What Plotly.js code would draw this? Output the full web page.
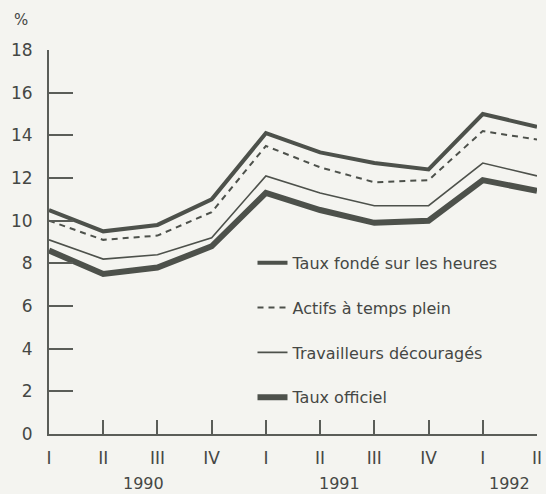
<!DOCTYPE html>
<html>
<head>
<meta charset="utf-8">
<script src="https://cdn.plot.ly/plotly-3.0.1.min.js"></script>
<style>html,body{margin:0;padding:0;background:#f4f4f0;}#chart{width:546px;height:494px;}</style>
</head>
<body>
<div id="chart"></div>
<script>
var quarterLabels = ["I","II","III","IV","I","II","III","IV","I","II"];
var years = ["1990","1991","1992"];
var yearPositions = [1.75, 5.35, 8.5];
var heures = [10.5, 9.5, 9.8, 11.0, 14.1, 13.2, 12.7, 12.4, 15.0, 14.4];
var actifs = [10.0, 9.1, 9.3, 10.4, 13.5, 12.5, 11.8, 11.9, 14.2, 13.8];
var travailleurs = [9.1, 8.2, 8.4, 9.2, 12.1, 11.3, 10.7, 10.7, 12.7, 12.1];
var officiel = [8.6, 7.5, 7.8, 8.8, 11.3, 10.5, 9.9, 10.0, 11.9, 11.4];
var seriesNames = ["Taux fondé sur les heures","Actifs à temps plein","Travailleurs découragés","Taux officiel"];

var xs = quarterLabels.map(function(_, i){ return i; });
var col = '#4d514b';
function tr(y, name, w, dash, g){
  return {x: xs, y: y, name: name, type: 'scatter', mode: 'lines', legendgroup: g,
    line: {color: col, width: w, dash: dash}, cliponaxis: false};
}
var data = [
  tr(heures, seriesNames[0], 4, 'solid', 'a'),
  tr(actifs, seriesNames[1], 2, '6px,5px', 'b'),
  tr(travailleurs, seriesNames[2], 1.6, 'solid', 'c'),
  tr(officiel, seriesNames[3], 6, 'solid', 'd')
];
var fam = 'DejaVu Sans, sans-serif';
var tcol = '#454744';
var tickFont = {family: fam, size: 17, color: tcol};
var yearFont = {family: fam, size: 16, color: tcol};
var legFont = {family: fam, size: 16, color: tcol};
var layout = {
  width: 546, height: 494,
  margin: {l: 49, r: 9, t: 50, b: 60},
  paper_bgcolor: '#f4f4f0', plot_bgcolor: '#f4f4f0',
  font: tickFont,
  showlegend: true,
  legend: {x: 0.417, y: 0.49, xanchor: 'left', yanchor: 'top', bgcolor: 'rgba(0,0,0,0)',
    tracegroupgap: 21, font: legFont, traceorder: 'grouped'},
  xaxis: {range: [0, 9], tickvals: xs, ticktext: quarterLabels, ticks: 'inside', ticklen: 14,
    tickwidth: 2, tickcolor: '#5a5d58', showline: true, linecolor: '#5a5d58', linewidth: 2,
    showgrid: false, zeroline: false, ticklabelstandoff: 8, tickfont: tickFont},
  yaxis: {range: [0, 18], dtick: 2, tick0: 0, ticks: 'inside', ticklen: 24, tickwidth: 2,
    tickcolor: '#5a5d58', showline: true, linecolor: '#5a5d58', linewidth: 2,
    showgrid: false, zeroline: false, ticklabelstandoff: 11, tickfont: tickFont},
  annotations: years.map(function(t, i){
    return {x: yearPositions[i], y: 0, xref: 'x', yref: 'paper', text: t, showarrow: false,
      yshift: -61, font: yearFont};
  }).concat([{x: 0, y: 1, xref: 'paper', yref: 'paper', text: '%', showarrow: false,
    xshift: -37, yshift: 41, font: {family: fam, size: 15, color: tcol}}])
};
Plotly.newPlot('chart', data, layout, {displayModeBar: false, staticPlot: true});
</script>
</body>
</html>
